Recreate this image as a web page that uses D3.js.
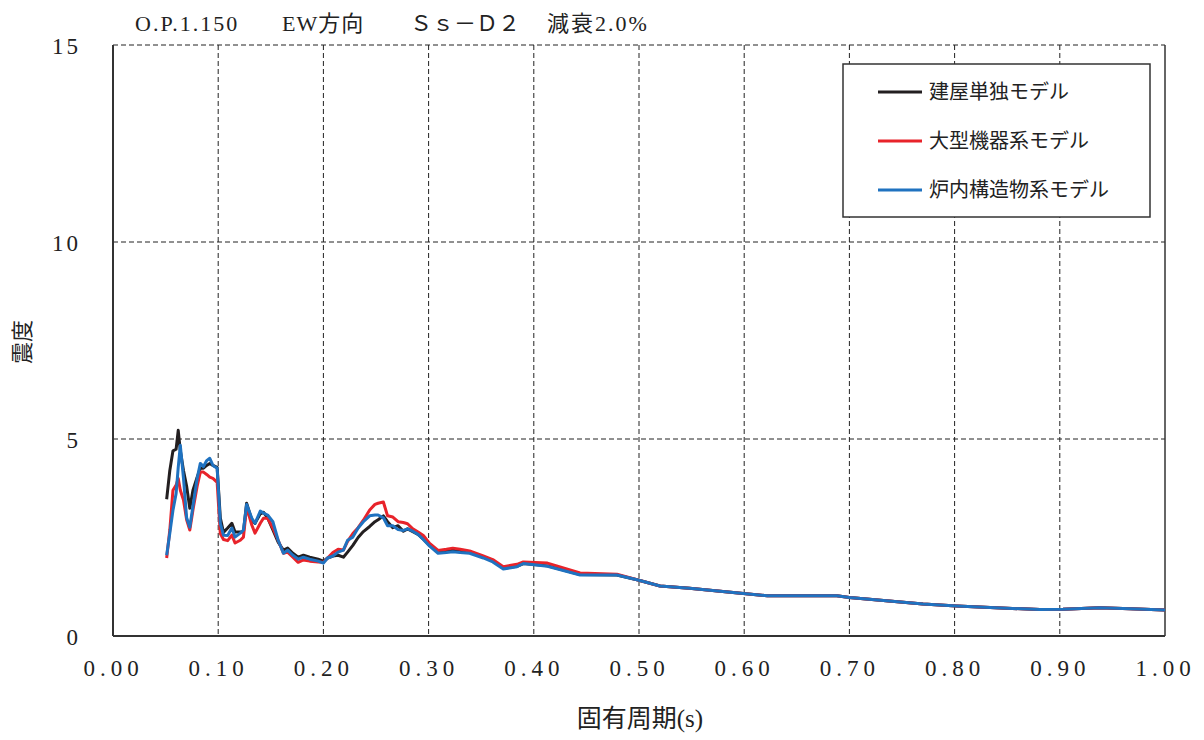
<!DOCTYPE html>
<html><head><meta charset="utf-8">
<script src="https://cdn.jsdelivr.net/npm/d3@7"></script>
<style>
body{margin:0;background:#fff;}
text{font-family:"Liberation Serif","Noto Sans CJK JP",serif;fill:#222;}
</style></head>
<body><svg id="c" width="1204" height="740"></svg>
<script>
const periods=[0.051,0.054,0.057,0.060,0.062,0.064,0.067,0.070,0.073,0.076,0.080,0.083,0.086,0.089,0.092,0.095,0.099,0.102,0.105,0.109,0.113,0.116,0.121,0.124,0.127,0.132,0.135,0.140,0.143,0.147,0.152,0.157,0.162,0.166,0.171,0.176,0.181,0.187,0.195,0.200,0.204,0.209,0.214,0.219,0.223,0.228,0.233,0.238,0.244,0.249,0.252,0.257,0.261,0.266,0.271,0.276,0.280,0.285,0.290,0.295,0.301,0.309,0.317,0.323,0.330,0.339,0.352,0.361,0.371,0.384,0.390,0.413,0.444,0.479,0.499,0.520,0.548,0.587,0.622,0.688,0.700,0.770,0.802,0.881,0.903,0.938,0.967,1.000];
const buildingOnly=[3.47,4.2,4.7,4.74,5.22,4.7,4.2,3.8,3.24,3.7,4.03,4.26,4.26,4.33,4.38,4.33,4.28,3.0,2.63,2.74,2.86,2.64,2.64,2.64,3.37,2.94,2.86,3.1,3.14,3.0,2.69,2.38,2.18,2.23,2.1,2.0,2.05,2.0,1.95,1.9,1.98,2.03,2.05,2.0,2.13,2.3,2.5,2.65,2.78,2.9,2.95,3.05,2.9,2.75,2.8,2.66,2.72,2.65,2.58,2.46,2.3,2.13,2.16,2.19,2.17,2.14,2.0,1.92,1.72,1.77,1.84,1.78,1.56,1.55,1.42,1.27,1.21,1.11,1.02,1.02,0.98,0.81,0.76,0.67,0.68,0.72,0.69,0.66];
const largeEquip=[1.98,2.69,3.7,3.83,4.0,3.7,3.45,2.95,2.69,3.2,3.8,4.16,4.16,4.1,4.03,4.0,3.9,2.6,2.45,2.42,2.56,2.36,2.43,2.51,3.27,2.81,2.61,2.86,2.99,2.99,2.74,2.43,2.1,2.13,2.0,1.87,1.93,1.9,1.88,1.87,1.98,2.12,2.2,2.18,2.4,2.6,2.75,2.94,3.2,3.34,3.37,3.4,3.05,3.02,2.9,2.88,2.85,2.72,2.64,2.55,2.35,2.17,2.2,2.23,2.2,2.16,2.03,1.94,1.76,1.82,1.88,1.85,1.6,1.57,1.42,1.27,1.21,1.11,1.02,1.02,0.98,0.81,0.76,0.67,0.68,0.72,0.69,0.66];
const reactorInt=[2.05,2.61,3.19,3.62,4.28,4.84,4.0,3.0,2.76,3.3,4.0,4.38,4.3,4.45,4.51,4.33,4.26,2.86,2.56,2.55,2.74,2.51,2.61,2.69,3.34,2.99,2.86,3.17,3.12,3.07,2.9,2.43,2.1,2.18,2.05,1.95,2.0,1.95,1.9,1.85,1.98,2.03,2.13,2.18,2.43,2.51,2.74,2.9,3.05,3.07,3.07,3.0,2.8,2.8,2.7,2.68,2.72,2.66,2.58,2.45,2.28,2.1,2.12,2.14,2.12,2.1,1.98,1.88,1.7,1.76,1.84,1.77,1.55,1.55,1.42,1.27,1.21,1.11,1.02,1.02,0.98,0.81,0.76,0.67,0.68,0.72,0.69,0.66];
const seriesNames=["建屋単独モデル","大型機器系モデル","炉内構造物系モデル"];
const seriesColors=["#231f20","#e8232a","#1f72c0"];
const xTicks=[0,0.1,0.2,0.3,0.4,0.5,0.6,0.7,0.8,0.9,1.0];
const yTicks=[0,5,10,15];

const svg=d3.select("#c");
const L=113,R=1165,T=45,B=636;
const x=d3.scaleLinear().domain([0,1]).range([L,R]);
const y=d3.scaleLinear().domain([0,15]).range([B,T]);

// grid
svg.append("g").selectAll("line").data(xTicks.slice(1,-1)).join("line")
 .attr("x1",d=>x(d)).attr("x2",d=>x(d)).attr("y1",T).attr("y2",B)
 .attr("stroke","#222").attr("stroke-width",1).attr("stroke-dasharray","5,3");
svg.append("g").selectAll("line").data(yTicks.slice(1)).join("line")
 .attr("x1",L).attr("x2",R).attr("y1",d=>y(d)).attr("y2",d=>y(d))
 .attr("stroke","#222").attr("stroke-width",1).attr("stroke-dasharray","5,3");
// frame
svg.append("line").attr("x1",R).attr("x2",R).attr("y1",T).attr("y2",B).attr("stroke","#333").attr("stroke-width",1.5);
svg.append("line").attr("x1",L).attr("x2",L).attr("y1",T).attr("y2",B).attr("stroke","#333").attr("stroke-width",2);
svg.append("line").attr("x1",L).attr("x2",R).attr("y1",B).attr("y2",B).attr("stroke","#333").attr("stroke-width",2);

// axes labels
const xAxis=d3.axisBottom(x).tickValues(xTicks).tickSize(0).tickFormat(d3.format(".2f"));
const gx=svg.append("g").attr("transform",`translate(0,${B})`).call(xAxis);
gx.select(".domain").remove();
gx.selectAll("text").attr("dy",0).attr("y",40).attr("x",0).style("font-size","23px").style("letter-spacing","5px").attr("fill","#222");
const yAxis=d3.axisLeft(y).tickValues(yTicks).tickSize(0).tickFormat(d3.format("d"));
const gy=svg.append("g").attr("transform",`translate(${L},0)`).call(yAxis);
gy.select(".domain").remove();
gy.selectAll("text").attr("x",-32).attr("dy","0.35em").style("font-size","23px").style("letter-spacing","3px").attr("fill","#222");

// lines
const data=[buildingOnly,largeEquip,reactorInt];
const line=d3.line().x((d,i)=>x(periods[i])).y(d=>y(d));
data.forEach((vals,k)=>{
 svg.append("path").datum(vals).attr("d",line).attr("fill","none")
  .attr("stroke",seriesColors[k]).attr("stroke-width",3).attr("stroke-linejoin","round");
});

// title
const tt=svg.append("text").attr("x",135).attr("y",31).style("font-size","22px");
tt.append("tspan").style("letter-spacing","2px").text("O.P.1.150");
tt.append("tspan").attr("x",282).style("letter-spacing","1px").text("EW方向");
tt.append("tspan").attr("x",410).text("Ｓｓ－Ｄ２");
tt.append("tspan").attr("x",547).style("letter-spacing","2px").text("減衰2.0%");

// axis titles
svg.append("text").attr("x",640).attr("y",727).attr("text-anchor","middle").style("font-size","25px").text("固有周期(s)");
svg.append("text").attr("transform","translate(30,342) rotate(-90)").attr("text-anchor","middle").style("font-size","22px").text("震度");

// legend
svg.append("rect").attr("x",843).attr("y",64).attr("width",307).attr("height",153).attr("fill","#fff").attr("stroke","#333").attr("stroke-width",1.5);
seriesNames.forEach((n,k)=>{
 const yy=92+k*49;
 svg.append("line").attr("x1",878).attr("x2",922).attr("y1",yy).attr("y2",yy).attr("stroke",seriesColors[k]).attr("stroke-width",3);
 svg.append("text").attr("x",929).attr("y",yy).attr("dy","0.35em").style("font-size","20px").attr("fill","#333").text(n);
});
</script></body></html>
